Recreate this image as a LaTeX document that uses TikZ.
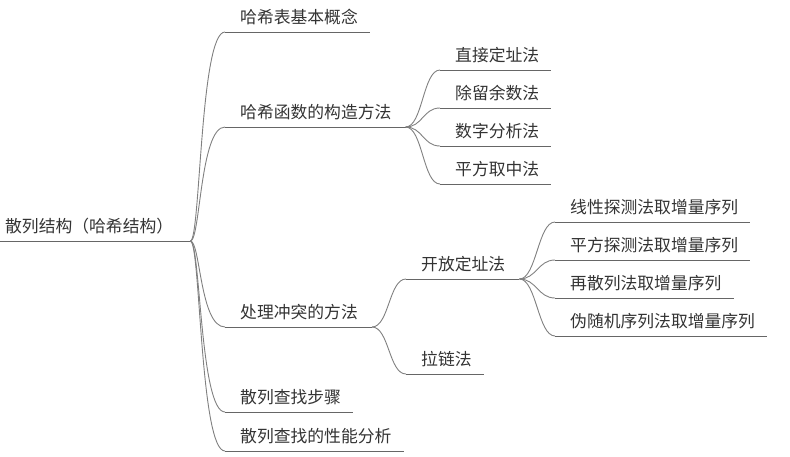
\documentclass[tikz,border=0pt]{standalone}
\usepackage{fontspec}
\newfontfamily\cjk{Noto Sans CJK SC}
\definecolor{cText}{HTML}{333333}
\definecolor{cUline}{HTML}{666666}
\definecolor{cCurve}{HTML}{808080}
\newcommand\mmlab[3]{\hspace*{#1pt}#2\hspace*{#3pt}}
\begin{document}
\begin{tikzpicture}[x=1pt,y=-1pt,
  topic/.style={anchor=south west, inner xsep=0pt, inner ysep=8pt, text depth=0pt,
    text=cText, font=\cjk\fontsize{16.8}{20}\selectfont},
  uline/.style={draw=cUline, line width=1pt},
  link/.style={draw=cCurve, line width=0.9pt,
    to path={.. controls +(17,0) and +(-17,0) .. (\tikztotarget)}},
  rootlink/.style={draw=cCurve, line width=0.9pt,
    to path={.. controls +(10,0) and +(-25,0) .. (\tikztotarget)}}]
\useasboundingbox (0,0) rectangle (790,456);

% root
\node[topic] (root) at (0,241) {\mmlab{5}{散列结构（哈希结构）}{17}};

% level 1
\node[topic] (a1) at (225,32)  {\mmlab{15}{哈希表基本概念}{12}};
\node[topic] (a2) at (225,127) {\mmlab{15}{哈希函数的构造方法}{14}};
\node[topic] (a3) at (225,327) {\mmlab{15}{处理冲突的方法}{14}};
\node[topic] (a4) at (225,412) {\mmlab{15}{散列查找步骤}{12}};
\node[topic] (a5) at (225,451) {\mmlab{15}{散列查找的性能分析}{12}};

% level 2 under a2
\node[topic] (b1) at (440,70)  {\mmlab{15}{直接定址法}{12}};
\node[topic] (b2) at (440,108) {\mmlab{15}{除留余数法}{12}};
\node[topic] (b3) at (440,146) {\mmlab{15}{数字分析法}{12}};
\node[topic] (b4) at (440,184) {\mmlab{15}{平方取中法}{12}};

% level 2 under a3
\node[topic] (c1) at (406,279) {\mmlab{15}{开放定址法}{14}};
\node[topic] (c2) at (406,374) {\mmlab{15}{拉链法}{12}};

% level 3 under c1
\node[topic] (d1) at (555,222) {\mmlab{15}{线性探测法取增量序列}{12}};
\node[topic] (d2) at (555,260) {\mmlab{15}{平方探测法取增量序列}{12}};
\node[topic] (d3) at (555,298) {\mmlab{15}{再散列法取增量序列}{12}};
\node[topic] (d4) at (555,336) {\mmlab{15}{伪随机序列法取增量序列}{12}};

% underlines
\foreach \n in {root,a1,a2,a3,a4,a5,b1,b2,b3,b4,c1,c2,d1,d2,d3,d4}
  \draw[uline] (\n.south west) -- (\n.south east);

% connectors
\foreach \n in {a1,a2,a3,a4,a5}
  \draw[rootlink] (root.south east) to (\n.south west);
\foreach \n in {b1,b2,b3,b4}
  \draw[link] (a2.south east) to (\n.south west);
\foreach \n in {c1,c2}
  \draw[link] (a3.south east) to (\n.south west);
\foreach \n in {d1,d2,d3,d4}
  \draw[link] (c1.south east) to (\n.south west);
\end{tikzpicture}
\end{document}
